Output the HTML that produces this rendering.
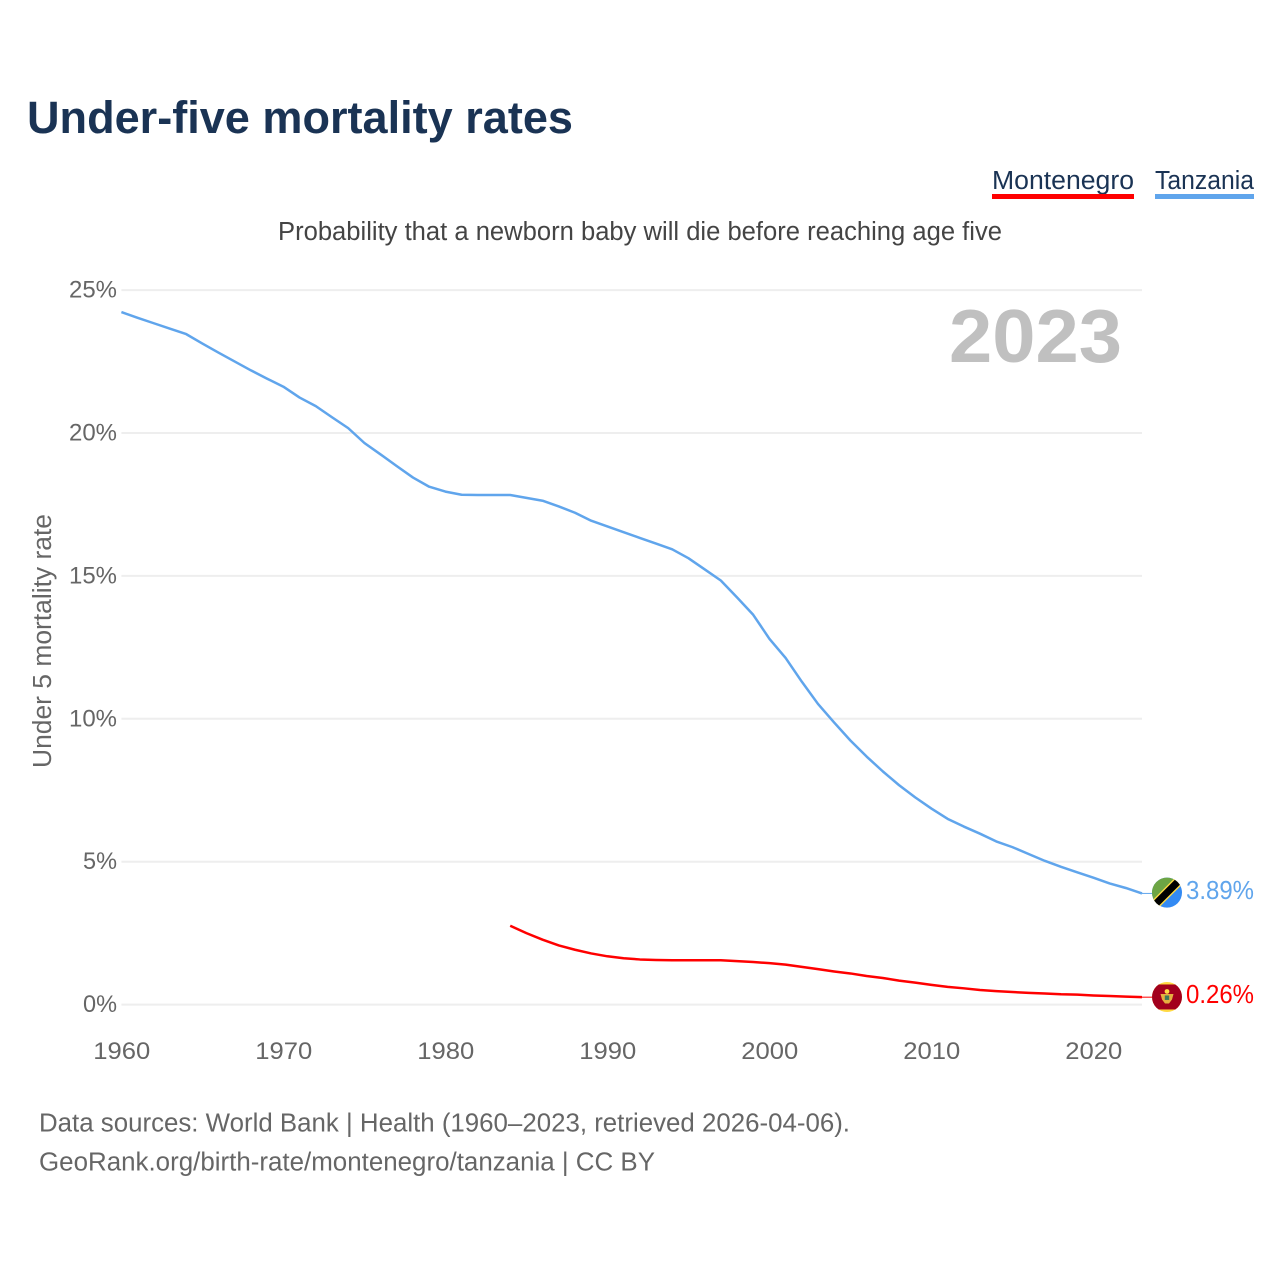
<!DOCTYPE html>
<html lang="en">
<head>
<meta charset="utf-8">
<title>Under-five mortality rates</title>
<style>
  html, body { margin: 0; padding: 0; background: #fff; width: 1280px; height: 1280px; overflow: hidden; }
  svg { display: block; }
  text { font-family: "Liberation Sans", sans-serif; }
</style>
</head>
<body>
<svg id="chart" xmlns="http://www.w3.org/2000/svg" width="1280" height="1280" viewBox="0 0 1280 1280">
  <defs>
    <clipPath id="flag-clip"><circle cx="0" cy="0" r="15"></circle></clipPath>
  </defs>
  <rect x="0" y="0" width="1280" height="1280" fill="#ffffff"></rect>
  <text x="27" y="133" font-size="45" font-weight="700" fill="#1a3354" textLength="546" lengthAdjust="spacingAndGlyphs">Under-five mortality rates</text>

  <g>
    <text x="992" y="189" font-size="25.5" fill="#1a3354" textLength="142" lengthAdjust="spacingAndGlyphs">Montenegro</text>
    <rect x="992" y="194" width="142" height="5" fill="#ff0000"></rect>
  </g>
  <g>
    <text x="1155" y="189" font-size="25.5" fill="#1a3354" textLength="99" lengthAdjust="spacingAndGlyphs">Tanzania</text>
    <rect x="1155" y="194" width="99" height="5" fill="#60a5ec"></rect>
  </g>

  <text x="278" y="240" font-size="25.5" fill="#444444" textLength="724" lengthAdjust="spacingAndGlyphs">Probability that a newborn baby will die before reaching age five</text>

  <g id="grid"></g>
  <g id="y-ticks"></g>
  <g id="x-ticks"></g>

  <text transform="translate(51,768) rotate(-90)" x="0" y="0" font-size="25.5" fill="#666666" textLength="254" lengthAdjust="spacingAndGlyphs">Under 5 mortality rate</text>
  <text x="949" y="362" font-size="75" font-weight="700" fill="#c0c0c0" textLength="173" lengthAdjust="spacingAndGlyphs">2023</text>

  <polyline id="line-tanzania" fill="none" stroke="#60a5ec" stroke-width="2.5" stroke-linejoin="round"></polyline>
  <polyline id="line-montenegro" fill="none" stroke="#ff0000" stroke-width="2.5" stroke-linejoin="round"></polyline>
  <line id="connector-tanzania" stroke="#60a5ec" stroke-width="1"></line>
  <line id="connector-montenegro" stroke="#ff0000" stroke-width="1"></line>

  <g id="flag-tanzania">
    <g clip-path="url(#flag-clip)">
      <rect x="-16" y="-16" width="32" height="32" fill="#338af3"></rect>
      <polygon points="-16,-16 16,-16 -16,16" fill="#6da544"></polygon>
      <polygon points="-20,13 13,-20 20,-13 -13,20" fill="#ffda44"></polygon>
      <polygon points="-20,15 15,-20 20,-15 -15,20" fill="#000000"></polygon>
    </g>
  </g>
  <g id="flag-montenegro">
    <g clip-path="url(#flag-clip)">
      <rect x="-16" y="-16" width="32" height="32" fill="#ffda44"></rect>
      <rect x="-16" y="-12.5" width="32" height="25" fill="#a2001d"></rect>
      <circle cx="0" cy="-5.5" r="2.4" fill="#ffda44"></circle>
      <polygon points="-6.5,-3 6.5,-3 5,2.5 2,6.5 -2,6.5 -5,2.5" fill="#e6b040"></polygon>
      <rect x="-2.2" y="-1.5" width="4.4" height="4.5" fill="#3f7a5a"></rect>
    </g>
  </g>

  <text id="end-label-tanzania" x="1186" font-size="25.5" fill="#60a5ec" textLength="68" lengthAdjust="spacingAndGlyphs"></text>
  <text id="end-label-montenegro" x="1186" font-size="25.5" fill="#ff0000" textLength="68" lengthAdjust="spacingAndGlyphs"></text>

  <text x="39" y="1131.5" font-size="25.5" fill="#666666" textLength="811" lengthAdjust="spacingAndGlyphs">Data sources: World Bank | Health (1960–2023, retrieved 2026-04-06).</text>
  <text x="39" y="1170.5" font-size="25.5" fill="#666666" textLength="616" lengthAdjust="spacingAndGlyphs">GeoRank.org/birth-rate/montenegro/tanzania | CC BY</text>
</svg>

<script>
const yearStart = 1960;
const tanzaniaValues = [24.23,24.03,23.84,23.65,23.46,23.13,22.81,22.5,22.19,21.9,21.62,21.24,20.94,20.55,20.17,19.65,19.25,18.84,18.44,18.12,17.95,17.84,17.83,17.83,17.83,17.73,17.63,17.43,17.21,16.93,16.73,16.53,16.33,16.13,15.93,15.62,15.23,14.84,14.25,13.64,12.8,12.13,11.3,10.52,9.87,9.24,8.68,8.16,7.68,7.25,6.86,6.5,6.23,5.98,5.71,5.51,5.27,5.03,4.82,4.63,4.44,4.24,4.08,3.89];
const montenegroStart = 1984;
const montenegroValues = [2.76,2.5,2.27,2.07,1.92,1.79,1.69,1.62,1.58,1.56,1.55,1.55,1.55,1.55,1.52,1.49,1.45,1.4,1.32,1.24,1.16,1.09,1.0,0.93,0.84,0.77,0.69,0.62,0.57,0.51,0.47,0.44,0.41,0.39,0.36,0.35,0.32,0.3,0.28,0.26];
const yTickValues = [0,5,10,15,20,25];
const xTickValues = [1960,1970,1980,1990,2000,2010,2020];

const SVG_NS = 'http://www.w3.org/2000/svg';
function xScale(year) { return 121.4 + (year - 1960) * 16.2; }
function yScale(value) { return 1004.6 - value * 28.58; }

const gridGroup = document.getElementById('grid');
const yTickGroup = document.getElementById('y-ticks');
const xTickGroup = document.getElementById('x-ticks');

yTickValues.forEach(function (v) {
  const gl = document.createElementNS(SVG_NS, 'line');
  
  
  gl.setAttribute('x1', xScale(1960));
  gl.setAttribute('x2', xScale(2023));
  gl.setAttribute('y1', yScale(v));
  gl.setAttribute('y2', yScale(v));
  gl.setAttribute('stroke', '#eeeeee');
  gl.setAttribute('stroke-width', '2');
  gridGroup.appendChild(gl);

  const t = document.createElementNS(SVG_NS, 'text');
  
  
  t.setAttribute('x', 117);
  t.setAttribute('y', yScale(v) + 7.5);
  t.setAttribute('text-anchor', 'end');
  t.setAttribute('font-size', '24.5');
  t.setAttribute('fill', '#666666');
  t.setAttribute('textLength', v >= 10 ? 48 : 34);
  t.setAttribute('lengthAdjust', 'spacingAndGlyphs');
  t.textContent = v + '%';
  yTickGroup.appendChild(t);
});

xTickValues.forEach(function (year) {
  const t = document.createElementNS(SVG_NS, 'text');
  
  
  t.setAttribute('x', xScale(year) + 0.4);
  t.setAttribute('y', 1059);
  t.setAttribute('text-anchor', 'middle');
  t.setAttribute('font-size', '24.5');
  t.setAttribute('fill', '#666666');
  t.setAttribute('textLength', 57);
  t.setAttribute('lengthAdjust', 'spacingAndGlyphs');
  t.textContent = year;
  xTickGroup.appendChild(t);
});

function pointsFor(values, start) {
  return values.map(function (v, i) {
    return xScale(start + i).toFixed(2) + ',' + yScale(v).toFixed(2);
  }).join(' ');
}

document.getElementById('line-tanzania').setAttribute('points', pointsFor(tanzaniaValues, yearStart));
document.getElementById('line-montenegro').setAttribute('points', pointsFor(montenegroValues, montenegroStart));

function placeEnd(key, values, flagOffset, labelOffset) {
  const last = values[values.length - 1];
  const y = yScale(last);
  const c = document.getElementById('connector-' + key);
  c.setAttribute('x1', xScale(2023));
  c.setAttribute('x2', 1153);
  c.setAttribute('y1', y);
  c.setAttribute('y2', y);
  document.getElementById('flag-' + key).setAttribute('transform', 'translate(1167,' + (y + flagOffset) + ')');
  const label = document.getElementById('end-label-' + key);
  label.setAttribute('y', y + labelOffset);
  label.textContent = last.toFixed(2) + '%';
}
placeEnd('tanzania', tanzaniaValues, -0.8, 5.8);
placeEnd('montenegro', montenegroValues, -0.2, 5.6);
</script>
</body>
</html>
